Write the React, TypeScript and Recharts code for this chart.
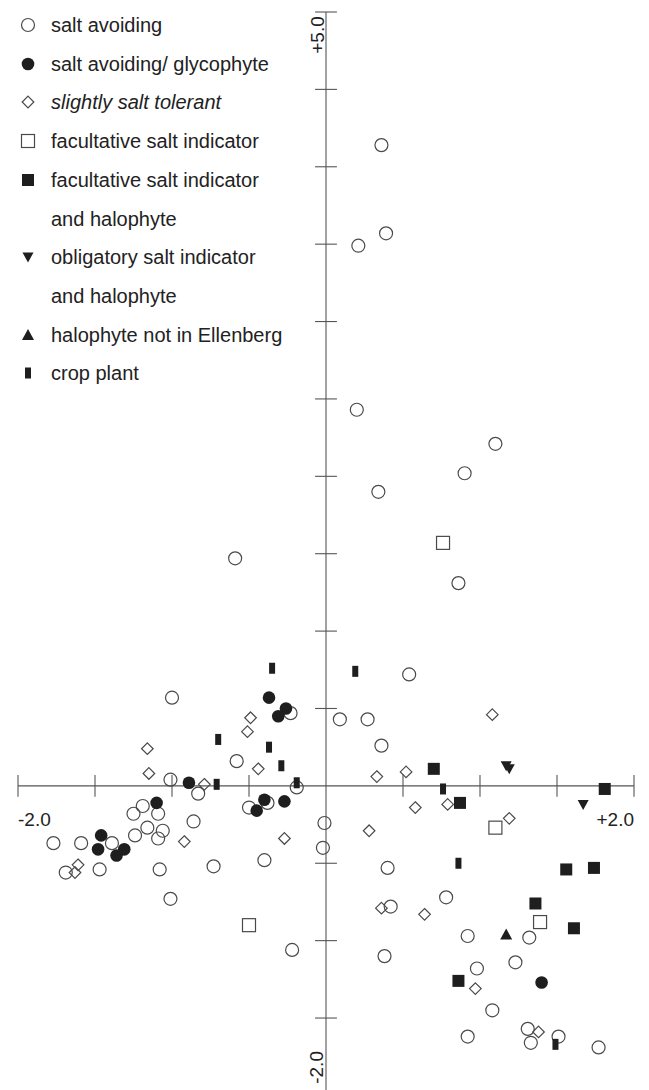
import { ReferenceDot, ReferenceLine, Scatter, ScatterChart, XAxis, YAxis } from 'recharts';

// ordination scores, [axis 1, axis 2]
const saltAvoiding: [number, number][] = [
  [0.36, 4.14], [0.39, 3.57], [0.21, 3.49], [0.2, 2.43], [1.1, 2.21], [0.9, 2.02],
  [0.34, 1.9], [0.86, 1.31], [-0.59, 1.47], [-1.0, 0.57], [-0.58, 0.16], [-1.01, 0.04],
  [-0.83, -0.05], [-0.19, -0.01], [-0.23, 0.47], [-0.5, -0.14], [-0.38, -0.11],
  [-1.19, -0.13], [-1.25, -0.18], [-1.09, -0.18], [-0.86, -0.23], [-1.16, -0.27],
  [-1.06, -0.29], [-1.24, -0.32], [-1.09, -0.34], [-1.39, -0.37], [-1.77, -0.37],
  [-1.59, -0.37], [-1.69, -0.56], [-1.47, -0.54], [-1.08, -0.54], [-0.73, -0.52],
  [-0.4, -0.48], [-1.01, -0.73], [-0.01, -0.24], [-0.02, -0.4], [-0.22, -1.06],
  [0.54, 0.72], [0.09, 0.43], [0.27, 0.43], [0.36, 0.26], [0.4, -0.53], [0.78, -0.72],
  [0.42, -0.78], [0.92, -0.97], [1.32, -0.98], [0.38, -1.1], [0.98, -1.18], [1.23, -1.14],
  [1.08, -1.45], [0.92, -1.62], [1.31, -1.57], [1.33, -1.66], [1.51, -1.62], [1.77, -1.69],
];

const glycophyte: [number, number][] = [
  [-0.37, 0.57], [-0.26, 0.5], [-0.31, 0.45], [-0.89, 0.02], [-1.1, -0.11], [-0.4, -0.09],
  [-0.45, -0.16], [-0.27, -0.1], [-1.46, -0.32], [-1.48, -0.41], [-1.36, -0.45],
  [-1.31, -0.41], [1.4, -1.27],
];

const slightlyTolerant: [number, number][] = [
  [-0.49, 0.44], [-0.51, 0.35], [-1.16, 0.24], [-1.15, 0.08], [-0.44, 0.11], [-0.79, 0.01],
  [-0.92, -0.36], [-0.27, -0.34], [-1.61, -0.51], [-1.63, -0.56], [1.08, 0.46], [0.33, 0.06],
  [0.52, 0.09], [0.58, -0.14], [0.79, -0.12], [1.19, -0.21], [0.28, -0.29], [0.36, -0.79],
  [0.64, -0.83], [0.97, -1.31], [1.38, -1.59],
];

const facultative: [number, number][] = [
  [0.76, 1.57], [-0.5, -0.9], [1.1, -0.27], [1.39, -0.88],
];

const facultativeHalophyte: [number, number][] = [
  [0.7, 0.11], [0.87, -0.11], [1.81, -0.02], [1.56, -0.54], [1.74, -0.53], [1.36, -0.76],
  [1.61, -0.92], [0.86, -1.26],
];

const obligatory: [number, number][] = [[1.17, 0.13], [1.19, 0.11], [1.67, -0.12]];

const notEllenberg: [number, number][] = [[1.17, -0.96]];

const cropPlant: [number, number][] = [
  [-0.35, 0.76], [-0.7, 0.3], [-0.37, 0.25], [-0.29, 0.13], [-0.71, 0.01], [-0.19, 0.02],
  [0.19, 0.74], [0.76, -0.02], [0.86, -0.5], [1.49, -1.67],
];

const categories = [
  'salt avoiding',
  'salt avoiding/ glycophyte',
  'slightly salt tolerant',
  'facultative salt indicator',
  'facultative salt indicator\nand halophyte',
  'obligatory salt indicator\nand halophyte',
  'halophyte not in Ellenberg',
  'crop plant',
];

const xTicks = [-2, -1.5, -1, -0.5, 0.5, 1, 1.5, 2];
const yTicks = [-1.5, -1, -0.5, 0.5, 1, 1.5, 2, 2.5, 3, 3.5, 4, 4.5, 5];
const xEndLabels = ['-2.0', '+2.0'];
const yEndLabels = ['+5.0', '-2.0'];

const INK = '#4a4a4a';
const DARK = '#1e1e1e';
const AXIS = '#555';
const TICK = 0.071;
const FONT = '"Liberation Sans", Arial, Helvetica, sans-serif';

type P = { cx?: number; cy?: number };

const openCircle = ({ cx = 0, cy = 0 }: P) => (
  <circle cx={cx} cy={cy} r={6.5} fill="none" stroke={INK} strokeWidth={1.2} />
);
const filledCircle = ({ cx = 0, cy = 0 }: P) => <circle cx={cx} cy={cy} r={6.3} fill={DARK} />;
const diamond = ({ cx = 0, cy = 0 }: P) => (
  <path
    d={`M${cx},${cy - 5.8}L${cx + 5.8},${cy}L${cx},${cy + 5.8}L${cx - 5.8},${cy}Z`}
    fill="none"
    stroke={INK}
    strokeWidth={1.2}
  />
);
const openSquare = ({ cx = 0, cy = 0 }: P) => (
  <rect x={cx - 6.5} y={cy - 6.5} width={13} height={13} fill="none" stroke={INK} strokeWidth={1.2} />
);
const filledSquare = ({ cx = 0, cy = 0 }: P) => (
  <rect x={cx - 6} y={cy - 6} width={12} height={12} fill={DARK} />
);
const triDown = ({ cx = 0, cy = 0 }: P) => (
  <path d={`M${cx - 5.5},${cy - 4.5}L${cx + 5.5},${cy - 4.5}L${cx},${cy + 5.5}Z`} fill={DARK} />
);
const triUp = ({ cx = 0, cy = 0 }: P) => (
  <path d={`M${cx - 6},${cy + 5}L${cx + 6},${cy + 5}L${cx},${cy - 6}Z`} fill={DARK} />
);
const crop = ({ cx = 0, cy = 0 }: P) => (
  <rect x={cx - 3} y={cy - 5.5} width={6} height={11} fill={DARK} />
);

const series = [
  { data: saltAvoiding, shape: openCircle },
  { data: glycophyte, shape: filledCircle },
  { data: slightlyTolerant, shape: diamond },
  { data: facultative, shape: openSquare },
  { data: facultativeHalophyte, shape: filledSquare },
  { data: obligatory, shape: triDown },
  { data: notEllenberg, shape: triUp },
  { data: cropPlant, shape: crop },
];

function LegendBlock() {
  const rows: { text: string; shape?: (p: P) => JSX.Element; italic: boolean }[] = [];
  categories.forEach((c, i) => {
    c.split('\n').forEach((line, j) => {
      rows.push({ text: line, shape: j === 0 ? series[i].shape : undefined, italic: i === 2 });
    });
  });
  return (
    <div style={{ position: 'absolute', left: 0, top: 0, fontFamily: FONT, fontSize: 20, color: '#222' }}>
      {rows.map((r, k) => (
        <div
          key={k}
          style={{ position: 'absolute', left: 0, top: 25 + k * 38.7 - 19, height: 38, width: 300, whiteSpace: 'nowrap' }}
        >
          {r.shape && (
            <svg width={20} height={20} style={{ position: 'absolute', left: 18, top: 9 }}>
              {r.shape({ cx: 10, cy: 10 })}
            </svg>
          )}
          <span style={{ position: 'absolute', left: 51, top: 0, lineHeight: '38px', fontStyle: r.italic ? 'italic' : 'normal' }}>
            {r.text}
          </span>
        </div>
      ))}
    </div>
  );
}

export default function App() {
  return (
    <div style={{ position: 'absolute', left: 0, top: 0, width: 649, height: 1090, background: '#fff', fontFamily: FONT }}>
      <ScatterChart width={649} height={1090} margin={{ top: 12, right: 15, bottom: 0, left: 18 }}>
        <XAxis type="number" dataKey="x" domain={[-2, 2]} allowDataOverflow hide />
        <YAxis type="number" dataKey="y" domain={[-1.965, 5]} allowDataOverflow hide />

        {/* axes crossing at the origin */}
        <ReferenceLine x={0} stroke={AXIS} strokeWidth={1.1} />
        <ReferenceLine y={0} stroke={AXIS} strokeWidth={1.1} />
        {xTicks.map((t) => (
          <ReferenceLine key={'xt' + t} segment={[{ x: t, y: -TICK }, { x: t, y: TICK }]} stroke={AXIS} strokeWidth={1.1} />
        ))}
        {yTicks.map((t) => (
          <ReferenceLine key={'yt' + t} segment={[{ x: -TICK, y: t }, { x: TICK, y: t }]} stroke={AXIS} strokeWidth={1.1} />
        ))}

        <ReferenceDot
          x={-2}
          y={0}
          r={0}
          ifOverflow="visible"
          shape={(p: P) => (
            <text x={p.cx} y={(p.cy ?? 0) + 40} fontSize={19} fill="#222" textAnchor="start" fontFamily={FONT}>
              {xEndLabels[0]}
            </text>
          )}
        />
        <ReferenceDot
          x={2}
          y={0}
          r={0}
          ifOverflow="visible"
          shape={(p: P) => (
            <text x={p.cx} y={(p.cy ?? 0) + 40} fontSize={19} fill="#222" textAnchor="end" fontFamily={FONT}>
              {xEndLabels[1]}
            </text>
          )}
        />
        <ReferenceDot
          x={0}
          y={5}
          r={0}
          ifOverflow="visible"
          shape={(p: P) => {
            const x = (p.cx ?? 0) - 2;
            const y = (p.cy ?? 0) + 23;
            return (
              <text x={x} y={y} fontSize={19} fill="#222" textAnchor="middle" fontFamily={FONT} transform={`rotate(-90 ${x} ${y})`}>
                {yEndLabels[0]}
              </text>
            );
          }}
        />
        <ReferenceDot
          x={0}
          y={-2}
          r={0}
          ifOverflow="visible"
          shape={(p: P) => {
            const x = (p.cx ?? 0) - 3;
            const y = (p.cy ?? 0) - 28;
            return (
              <text x={x} y={y} fontSize={19} fill="#222" textAnchor="middle" fontFamily={FONT} transform={`rotate(-90 ${x} ${y})`}>
                {yEndLabels[1]}
              </text>
            );
          }}
        />

        {series.map((s, i) => (
          <Scatter
            key={i}
            name={categories[i]}
            data={s.data.map(([x, y]) => ({ x, y }))}
            shape={s.shape}
            isAnimationActive={false}
          />
        ))}
      </ScatterChart>
      <LegendBlock />
    </div>
  );
}
